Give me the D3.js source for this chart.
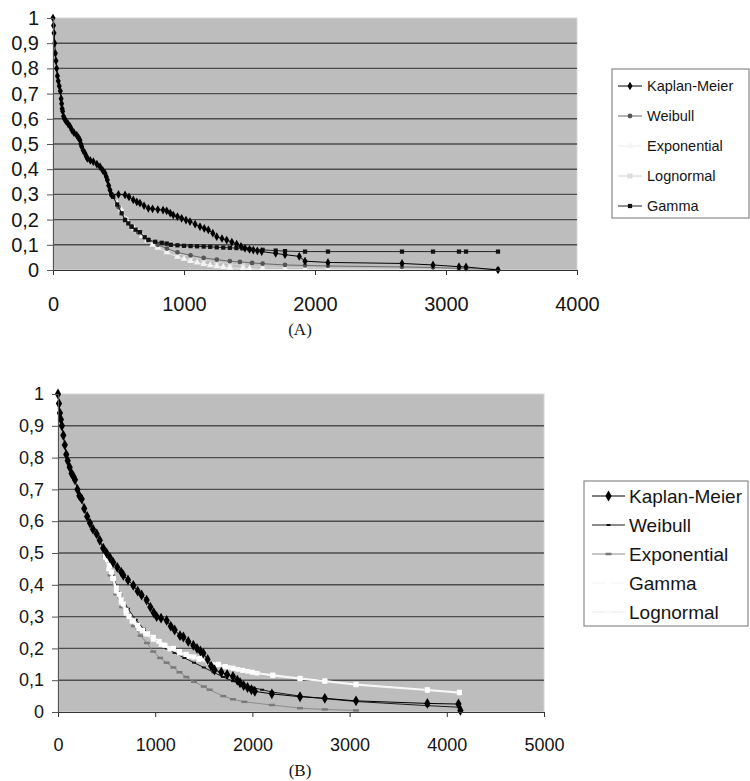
<!DOCTYPE html>
<html>
<head>
<meta charset="utf-8">
<style>
body{margin:0;background:#fff;}
svg{display:block;}
.axis text{font-family:"Liberation Sans",Arial,sans-serif;fill:#151515;}
.lg{font-family:"Liberation Sans",Arial,sans-serif;fill:#151515;}
.cap{font-family:"Liberation Serif","Times New Roman",serif;fill:#151515;text-anchor:middle;}
</style>
</head>
<body>
<svg width="750" height="781"></svg>
<script src="https://d3js.org/d3.v7.min.js"></script>
<script>
// ---- data ----
var yTicks = [0,0.1,0.2,0.3,0.4,0.5,0.6,0.7,0.8,0.9,1];
var xTicksA = [0,1000,2000,3000,4000];
var xTicksB = [0,1000,2000,3000,4000,5000];
var legendA = ["Kaplan-Meier","Weibull","Exponential","Lognormal","Gamma"];
var legendB = ["Kaplan-Meier","Weibull","Exponential","Gamma","Lognormal"];

// panel A  [time, survival]
var kmA = [[0,1],[4,0.97],[8,0.94],[13,0.9],[18,0.86],[23,0.83],[28,0.8],[34,0.77],[40,0.75],[48,0.73],[56,0.71],[62,0.68],[66,0.66],[70,0.64],[74,0.63],[80,0.61],[88,0.6],[100,0.59],[115,0.58],[130,0.57],[145,0.555],[160,0.545],[181,0.535],[195,0.525],[206,0.515],[213,0.5],[219,0.49],[230,0.475],[244,0.463],[255,0.45],[262,0.443],[285,0.435],[308,0.43],[335,0.42],[359,0.41],[380,0.395],[397,0.384],[407,0.37],[415,0.357],[425,0.335],[435,0.317],[445,0.3],[500,0.3],[550,0.298],[580,0.29],[613,0.278],[640,0.27],[664,0.265],[695,0.255],[728,0.245],[760,0.243],[800,0.24],[840,0.238],[868,0.235],[895,0.226],[918,0.218],[950,0.212],[982,0.205],[1015,0.198],[1046,0.192],[1085,0.182],[1122,0.172],[1155,0.165],[1186,0.159],[1220,0.146],[1250,0.132],[1290,0.125],[1326,0.119],[1365,0.111],[1402,0.103],[1435,0.094],[1466,0.086],[1500,0.082],[1529,0.079],[1560,0.076],[1593,0.073],[1700,0.066],[1771,0.061],[1880,0.054],[1924,0.035],[2099,0.03],[2664,0.026],[2901,0.02],[3099,0.013],[3153,0.012],[3397,0.0]];
var weibullA = [[445,0.3],[500,0.25],[550,0.2],[600,0.172],[650,0.15],[730,0.12],[800,0.1],[870,0.085],[950,0.07],[1050,0.058],[1150,0.048],[1250,0.041],[1350,0.035],[1427,0.032],[1520,0.028],[1600,0.025],[1771,0.02],[1924,0.018],[2099,0.016],[2664,0.012],[2901,0.01],[3099,0.006],[3153,0.005],[3397,0.003]];
var exponentialA = [[445,0.3],[490,0.265],[520,0.24],[560,0.2],[620,0.165],[680,0.135],[720,0.118],[760,0.1],[800,0.088],[870,0.07],[950,0.052],[1000,0.044],[1050,0.036],[1100,0.03],[1150,0.024],[1200,0.019],[1250,0.015],[1300,0.012],[1350,0.009],[1450,0.006],[1500,0.005],[1600,0.003],[1771,0.002],[1924,0.001],[2099,0.0],[2664,0.0],[2901,0.0],[3099,0.0],[3153,0.0],[3397,0.0]];
var lognormalA = [[445,0.3],[520,0.235],[560,0.2],[640,0.155],[720,0.118],[800,0.095],[870,0.08],[950,0.066],[1050,0.052],[1150,0.041],[1250,0.032],[1350,0.024],[1450,0.018],[1600,0.013],[1771,0.01],[1924,0.008],[2099,0.006],[2664,0.004],[2901,0.003],[3099,0.002],[3153,0.002],[3397,0.001]];
var gammaA = [[445,0.3],[460,0.29],[490,0.26],[524,0.225],[550,0.198],[575,0.185],[600,0.172],[630,0.16],[664,0.15],[700,0.13],[728,0.119],[780,0.112],[830,0.108],[868,0.105],[900,0.1],[950,0.098],[1000,0.096],[1050,0.095],[1100,0.094],[1150,0.093],[1200,0.092],[1250,0.09],[1300,0.089],[1350,0.088],[1400,0.087],[1450,0.086],[1500,0.083],[1600,0.08],[1700,0.077],[1771,0.075],[1924,0.073],[2099,0.073],[2664,0.073],[2901,0.073],[3099,0.073],[3153,0.073],[3397,0.073]];

// panel B  [time, survival]
var kmB = [[0,1],[10,0.97],[20,0.94],[30,0.92],[40,0.9],[55,0.87],[70,0.84],[85,0.81],[100,0.79],[120,0.77],[140,0.75],[160,0.74],[175,0.73],[200,0.7],[220,0.68],[244,0.67],[270,0.64],[300,0.615],[329,0.594],[360,0.575],[398,0.56],[430,0.54],[465,0.515],[500,0.5],[535,0.485],[568,0.47],[610,0.455],[650,0.44],[672,0.43],[720,0.415],[775,0.398],[820,0.38],[860,0.368],[912,0.352],[950,0.33],[985,0.312],[1015,0.3],[1060,0.295],[1118,0.288],[1160,0.27],[1200,0.258],[1255,0.24],[1290,0.236],[1340,0.222],[1392,0.21],[1430,0.2],[1465,0.192],[1495,0.185],[1540,0.165],[1575,0.145],[1610,0.132],[1680,0.125],[1740,0.118],[1800,0.112],[1845,0.1],[1873,0.092],[1910,0.083],[1950,0.077],[1990,0.07],[2025,0.065],[2200,0.057],[2490,0.048],[2745,0.043],[3066,0.035],[3800,0.027],[4120,0.025],[4140,0.005]];
var weibullB = [[490,0.49],[560,0.43],[640,0.37],[720,0.325],[800,0.29],[880,0.262],[960,0.238],[1040,0.218],[1120,0.2],[1200,0.186],[1300,0.17],[1400,0.155],[1500,0.14],[1600,0.125],[1700,0.11],[1800,0.097],[1900,0.086],[2000,0.077],[2100,0.07],[2200,0.063],[2490,0.05],[2745,0.042],[3066,0.033],[3800,0.02],[4130,0.015]];
var exponentialB = [[490,0.49],[540,0.43],[600,0.37],[660,0.33],[720,0.3],[780,0.27],[850,0.24],[915,0.217],[980,0.19],[1050,0.17],[1118,0.155],[1187,0.14],[1250,0.125],[1320,0.11],[1400,0.095],[1500,0.08],[1560,0.07],[1700,0.05],[1800,0.04],[1917,0.032],[2200,0.022],[2490,0.012],[2745,0.008],[3066,0.005]];
var gammaB = [[490,0.49],[510,0.48],[530,0.46],[550,0.44],[570,0.42],[600,0.39],[630,0.37],[650,0.353],[672,0.34],[700,0.32],[730,0.3],[775,0.287],[820,0.272],[870,0.257],[920,0.246],[980,0.235],[1040,0.222],[1100,0.21],[1187,0.2],[1250,0.19],[1320,0.181],[1400,0.173],[1460,0.168],[1550,0.16],[1650,0.15],[1720,0.143],[1800,0.138],[1900,0.131],[2000,0.125],[2210,0.116],[2490,0.106],[2745,0.098],[3066,0.087],[3800,0.07],[4130,0.062]];
var lognormalB = [[490,0.485],[520,0.45],[560,0.42],[600,0.38],[650,0.345],[700,0.31],[760,0.285],[830,0.262],[900,0.245],[980,0.228],[1060,0.212],[1150,0.198],[1250,0.185],[1350,0.175],[1450,0.165],[1550,0.155],[1650,0.148],[1750,0.14],[1850,0.134],[1950,0.128],[2050,0.122],[2210,0.114],[2490,0.104],[2745,0.096],[3066,0.085],[3800,0.068],[4130,0.06]];

var svg = d3.select("svg");
var loc = d3.formatLocale({decimal: ",", thousands: "", grouping: [3], currency: ["", ""]});
var fmt = loc.format("");

function marker(type, size) {
    if (type == "diamond") return d3.symbol().type(d3.symbolDiamond).size(size)();
    if (type == "circle") return d3.symbol().type(d3.symbolCircle).size(size)();
    if (type == "triangle") return d3.symbol().type(d3.symbolTriangle).size(size)();
    if (type == "square") return d3.symbol().type(d3.symbolSquare).size(size)();
    if (type == "cross") return d3.symbol().type(d3.symbolCross).size(size)();
    if (type == "dash") { var h = Math.sqrt(size); return "M" + (-h) + ",0H" + h; }
    return "";
}

function panel(p) {
    var x = d3.scaleLinear().domain([0, p.xmax]).range([p.left, p.right]);
    var y = d3.scaleLinear().domain([0, 1]).range([p.bottom, p.top]);
    var g = svg.append("g");

    g.append("rect")
        .attr("x", p.left).attr("y", p.top)
        .attr("width", p.right - p.left).attr("height", p.bottom - p.top)
        .attr("fill", "#bdbdbd").attr("stroke", "#d6d6d6").attr("stroke-width", 1);

    // grid
    g.append("g")
        .selectAll("line")
        .data(yTicks.filter(function(d) { return d > 0 && d < 1; }))
        .enter().append("line")
        .attr("x1", p.left).attr("x2", p.right)
        .attr("y1", function(d) { return y(d); }).attr("y2", function(d) { return y(d); })
        .attr("stroke", "#4d4d4d").attr("stroke-width", 1.4);

    // series
    p.series.forEach(function(s) {
        var line = d3.line().x(function(d) { return x(d[0]); }).y(function(d) { return y(d[1]); });
        g.append("path").datum(s.data)
            .attr("d", line).attr("fill", "none")
            .attr("stroke", s.line).attr("stroke-width", s.lw || 1);
        g.append("g").selectAll("path")
            .data(s.data).enter().append("path")
            .attr("transform", function(d) { return "translate(" + x(d[0]) + "," + y(d[1]) + ")" + (s.rot ? " rotate(45)" : ""); })
            .attr("d", marker(s.shape, s.size))
            .attr("fill", s.shape == "dash" ? "none" : s.fill)
            .attr("stroke", s.stroke || "none")
            .attr("stroke-width", s.sw || 1);
    });

    // axes
    var xa = g.append("g").attr("class", "axis")
        .attr("transform", "translate(0," + p.bottom + ")")
        .call(d3.axisBottom(x).tickValues(p.xTicks).tickFormat(fmt).tickSizeOuter(0).tickSize(5).tickPadding(p.xpad));
    xa.selectAll("text").style("font-size", p.fs + "px");
    xa.selectAll("line,path").attr("stroke", "#333");

    var ya = g.append("g").attr("class", "axis")
        .attr("transform", "translate(" + p.left + ",0)")
        .call(d3.axisLeft(y).tickValues(yTicks).tickFormat(fmt).tickSizeOuter(0).tickSize(6).tickPadding(p.ypad));
    ya.selectAll("text").style("font-size", p.fs + "px");
    ya.selectAll("line,path").attr("stroke", "#555");

    // caption
    svg.append("text").attr("class", "cap")
        .attr("x", p.capX).attr("y", p.capY)
        .style("font-size", "17px").text(p.caption);

    // legend
    var L = p.legend;
    svg.append("rect")
        .attr("x", L.x).attr("y", L.y).attr("width", L.w).attr("height", L.h)
        .attr("fill", "#fff").attr("stroke", "#8a8a8a").attr("stroke-width", 1.2);
    var items = svg.append("g").selectAll("g")
        .data(L.names).enter().append("g")
        .attr("transform", function(d, i) { return "translate(0," + (L.y0 + i * L.step) + ")"; });
    items.each(function(name) {
        var s = p.series.filter(function(q) { return q.name == name; })[0];
        var it = d3.select(this);
        it.append("line").attr("x1", L.lx1).attr("x2", L.lx2)
            .attr("stroke", s.line).attr("stroke-width", s.lw || 1);
        it.append("path")
            .attr("transform", "translate(" + ((L.lx1 + L.lx2) / 2) + ",0)" + (s.rot ? " rotate(45)" : ""))
            .attr("d", marker(s.shape, s.size))
            .attr("fill", s.shape == "dash" ? "none" : s.fill)
            .attr("stroke", s.stroke || "none").attr("stroke-width", s.sw || 1);
        it.append("text").attr("class", "lg")
            .attr("x", L.tx).attr("dy", "0.35em")
            .style("font-size", L.fs + "px").text(name);
    });
}

panel({
    left: 53, right: 577, top: 18, bottom: 270, xmax: 4000,
    xTicks: xTicksA, fs: 20, xpad: 22, ypad: 8,
    caption: "(A)", capX: 300, capY: 335,
    series: [
        {name: "Lognormal", data: lognormalA, line: "#d0d0d0", shape: "cross", size: 22, fill: "#dcdcdc", rot: true},
        {name: "Exponential", data: exponentialA, line: "#ececec", shape: "triangle", size: 20, fill: "#f4f4f4"},
        {name: "Weibull", data: weibullA, line: "#6a6a6a", shape: "circle", size: 18, fill: "#555"},
        {name: "Gamma", data: gammaA, line: "#222", shape: "square", size: 18, fill: "#111"},
        {name: "Kaplan-Meier", data: kmA, line: "#000", shape: "diamond", size: 22, fill: "#000"}
    ],
    legend: {x: 612, y: 69, w: 137, h: 149, y0: 86, step: 30, lx1: 618, lx2: 642, tx: 647, fs: 14.5, names: legendA}
});

panel({
    left: 58, right: 544, top: 394, bottom: 712, xmax: 5000,
    xTicks: xTicksB, fs: 18, xpad: 21, ypad: 8,
    caption: "(B)", capX: 300, capY: 776,
    series: [
        {name: "Exponential", data: exponentialB, line: "#8c8c8c", shape: "dash", size: 9, fill: "#8c8c8c", stroke: "#7a7a7a", sw: 2.5},
        {name: "Weibull", data: weibullB, line: "#1a1a1a", shape: "dash", size: 4, fill: "#111", stroke: "#111", sw: 2},
        {name: "Lognormal", data: lognormalB, line: "#f2f2f2", shape: "square", size: 22, fill: "#fbfbfb", lw: 1.5},
        {name: "Gamma", data: gammaB, line: "#f7f7f7", shape: "square", size: 26, fill: "#fff", lw: 1.5},
        {name: "Kaplan-Meier", data: kmB, line: "#000", shape: "diamond", size: 34, fill: "#000"}
    ],
    legend: {x: 584, y: 481, w: 164, h: 145, y0: 496, step: 29, lx1: 592, lx2: 625, tx: 629, fs: 19, names: legendB}
});
</script>
</body>
</html>
